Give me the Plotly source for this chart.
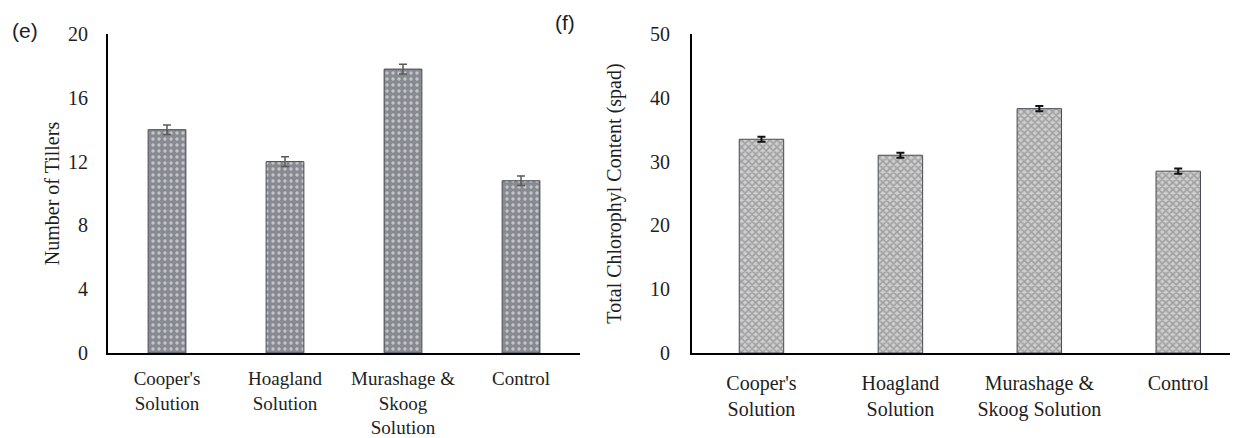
import plotly.graph_objects as go

categories_e = ["Cooper's<br>Solution", "Hoagland<br>Solution", "Murashage &<br>Skoog<br>Solution", "Control"]
categories_f = ["Cooper's<br>Solution", "Hoagland<br>Solution", "Murashage &<br>Skoog Solution", "Control"]
tillers = [14.0, 12.0, 17.8, 10.8]
tillers_err = [0.3, 0.3, 0.3, 0.3]
chlorophyll = [33.5, 31.0, 38.3, 28.5]
chlorophyll_err = [0.4, 0.4, 0.4, 0.4]
ticks_e = [0, 4, 8, 12, 16, 20]
ticks_f = [0, 10, 20, 30, 40, 50]

# page body has an 8px margin: figure is laid out in page coords minus 8
OFF = 8
W, H = 1238 - OFF, 438 - OFF
T = 34 - OFF
B = H - (356 - OFF)
serif = "Liberation Serif, Times New Roman, serif"
sans = "Liberation Sans, Arial, sans-serif"

def px(x):
    return (x - OFF) / W

def py(y):
    return (H - (y - OFF) - B) / (H - T - B)

fig = go.Figure()
fig.add_trace(go.Bar(
    x=categories_e, y=tillers, width=0.32, xaxis="x", yaxis="y",
    marker=dict(color="#8c8f94", line=dict(color="#454b57", width=1),
                pattern=dict(shape=".", bgcolor="#878a90", fgcolor="#ffffff", size=6, solidity=0.25)),
    error_y=dict(type="data", array=tillers_err, color="#5a5a5a", thickness=1.5, width=4),
    showlegend=False))
fig.add_trace(go.Bar(
    x=categories_f, y=chlorophyll, width=0.32, xaxis="x2", yaxis="y2",
    marker=dict(color="#a8a8a8", line=dict(color="#454b57", width=1),
                pattern=dict(shape="x", bgcolor="#d0d0d0", fgcolor="#767676", size=5, solidity=0.6)),
    error_y=dict(type="data", array=chlorophyll_err, color="#111111", thickness=2, width=4),
    showlegend=False))

def axis(**kw):
    base = dict(showgrid=False, zeroline=False, showline=True, linecolor="black", linewidth=2, ticks="")
    base.update(kw)
    return base

fig.update_layout(
    width=W, height=H,
    margin=dict(l=0, r=0, t=T, b=B),
    paper_bgcolor="white", plot_bgcolor="white",
    font=dict(family=serif, color="#1e1e1e", size=20),
    xaxis=axis(domain=[px(108), px(580)], range=[-0.5, 3.5], anchor="y",
               tickfont=dict(size=19), ticklabelstandoff=7),
    yaxis=axis(domain=[0, 1], range=[0, 20], tickvals=ticks_e, anchor="x",
               tickfont=dict(size=20), ticklabelstandoff=14,
               title=dict(text="Number of Tillers", font=dict(size=20), standoff=3)),
    xaxis2=axis(domain=[px(692), 1.0], range=[-0.5, 3.43], anchor="y2",
                tickfont=dict(size=20), ticklabelstandoff=11),
    yaxis2=axis(domain=[0, 1], range=[0, 50], tickvals=ticks_f, anchor="x2",
                tickfont=dict(size=20), ticklabelstandoff=16,
                title=dict(text="Total Chlorophyl Content (spad)", font=dict(size=20), standoff=23)),
    annotations=[
        dict(text="(e)", x=px(10), y=py(30), xref="paper", yref="paper",
             showarrow=False, font=dict(family=sans, size=21, color="#1e1e1e"),
             xanchor="left", yanchor="middle"),
        dict(text="(f)", x=px(553), y=py(22), xref="paper", yref="paper",
             showarrow=False, font=dict(family=sans, size=21, color="#1e1e1e"),
             xanchor="left", yanchor="middle"),
    ],
)

fig.write_html("out.html")
